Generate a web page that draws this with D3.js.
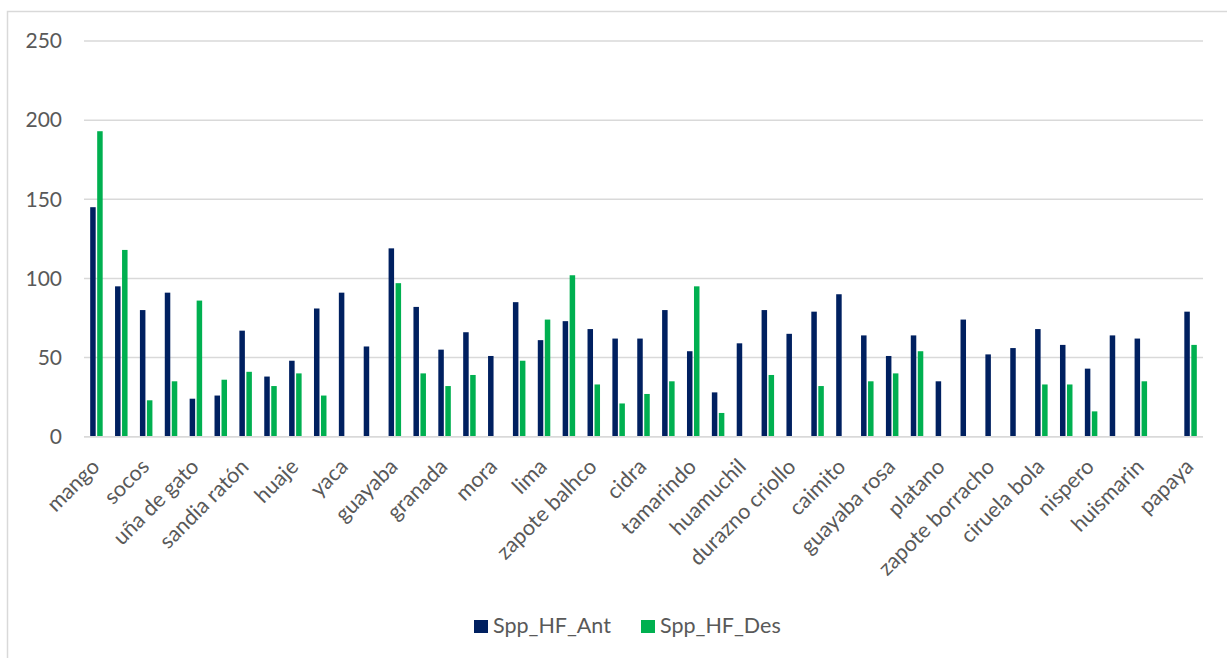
<!DOCTYPE html>
<html>
<head>
<meta charset="utf-8">
<script src="https://cdn.jsdelivr.net/npm/d3@7"></script>
<style>
  html, body { margin: 0; padding: 0; background: #fff; }
  svg { display: block; }
  text { font-family: Lato, "Noto Sans", sans-serif; fill: #595959; }
</style>
</head>
<body>
<svg id="chart" width="1227" height="658"></svg>
<script>
// Categories (only every other name is shown on the axis in the original; hidden ones unknown)
const categories = [
  "mango", "", "socos", "", "uña de gato", "", "sandia ratón", "", "huaje", "",
  "yaca", "", "guayaba", "", "granada", "", "mora", "", "lima", "",
  "zapote balhco", "", "cidra", "", "tamarindo", "", "huamuchil", "", "durazno criollo", "",
  "caimito", "", "guayaba rosa", "", "platano", "", "zapote borracho", "", "ciruela bola", "",
  "nispero", "", "huismarin", "", "papaya"
];
const seriesNames = ["Spp_HF_Ant", "Spp_HF_Des"];
const sppHFAnt = [145, 95, 80, 91, 24, 26, 67, 38, 48, 81, 91, 57, 119, 82, 55, 66, 51, 85, 61, 73,
                  68, 62, 62, 80, 54, 28, 59, 80, 65, 79, 90, 64, 51, 64, 35, 74, 52, 56, 68, 58,
                  43, 64, 62, 0, 79];
const sppHFDes = [193, 118, 23, 35, 86, 36, 41, 32, 40, 26, 0, 0, 97, 40, 32, 39, 0, 48, 74, 102,
                  33, 21, 27, 35, 95, 15, 0, 39, 0, 32, 0, 35, 40, 54, 0, 0, 0, 0, 33, 33,
                  16, 0, 35, 0, 58];
const yTicks = [0, 50, 100, 150, 200, 250];
const colors = ["#002060", "#00B050"];

const svg = d3.select("#chart");

// chart frame (left and top edges visible)
svg.append("rect")
  .attr("x", 7.5).attr("y", 11.5)
  .attr("width", 1400).attr("height", 800)
  .attr("fill", "none").attr("stroke", "#D9D9D9").attr("stroke-width", 1.5);

const plot = { left: 84, right: 1203, top: 41, bottom: 436.7 };

const x0 = d3.scaleBand()
  .domain(d3.range(categories.length))
  .range([plot.left, plot.right])
  .paddingInner(0).paddingOuter(0);

const x1 = d3.scaleBand()
  .domain(seriesNames)
  .range([0, x0.bandwidth()])
  .paddingInner(0.214)
  .paddingOuter(0.883);

const y = d3.scaleLinear().domain([0, 250]).range([plot.bottom, plot.top]);

// gridlines
svg.append("g")
  .selectAll("line")
  .data(yTicks)
  .join("line")
  .attr("x1", plot.left).attr("x2", plot.right)
  .attr("y1", d => y(d)).attr("y2", d => y(d))
  .attr("stroke", "#D9D9D9").attr("stroke-width", 1.5);

// y axis labels
const yAxis = d3.axisLeft(y).tickValues(yTicks).tickSize(0).tickPadding(0);
const gy = svg.append("g").attr("transform", "translate(62,0)").call(yAxis);
gy.select(".domain").remove();
gy.selectAll("text")
  .attr("font-size", 21)
  .style("font-family", "Lato, 'Noto Sans', sans-serif")
  .attr("fill", "#595959");

// bars
const data = categories.map((c, i) => ({ i, values: [
  { key: seriesNames[0], v: sppHFAnt[i] },
  { key: seriesNames[1], v: sppHFDes[i] }
]}));

const groups = svg.append("g")
  .selectAll("g")
  .data(data)
  .join("g")
  .attr("transform", d => `translate(${x0(d.i)},0)`);

groups.selectAll("rect")
  .data(d => d.values.filter(v => v.v > 0))
  .join("rect")
  .attr("x", d => x1(d.key))
  .attr("width", x1.bandwidth())
  .attr("y", d => y(d.v))
  .attr("height", d => y(0) - y(d.v))
  .attr("fill", d => colors[seriesNames.indexOf(d.key)]);

// x axis line (baseline)
svg.append("line")
  .attr("x1", plot.left).attr("x2", plot.right)
  .attr("y1", y(0)).attr("y2", y(0))
  .attr("stroke", "#D9D9D9").attr("stroke-width", 1.5);

// category labels
const xAxis = d3.axisBottom(x0).tickSize(0).tickFormat(i => categories[i]);
const gx = svg.append("g").attr("transform", `translate(0,${y(0)})`).call(xAxis);
gx.select(".domain").remove();
gx.selectAll(".tick text")
  .attr("font-size", 21.5)
  .style("font-family", "Lato, 'Noto Sans', sans-serif")
  .attr("fill", "#595959")
  .attr("text-anchor", "end")
  .attr("x", 0).attr("y", 0)
  .attr("dy", "0.35em")
  .attr("transform", "translate(-1,26) rotate(-45)");

// legend
const legend = svg.append("g");
const legendX = [474, 641];
seriesNames.forEach((name, k) => {
  legend.append("rect")
    .attr("x", legendX[k]).attr("y", 620)
    .attr("width", 14).attr("height", 13)
    .attr("fill", colors[k]);
  legend.append("text")
    .attr("x", legendX[k] + 19).attr("y", 633)
    .attr("font-size", 21.5)
    .text(name);
});
</script>
</body>
</html>
